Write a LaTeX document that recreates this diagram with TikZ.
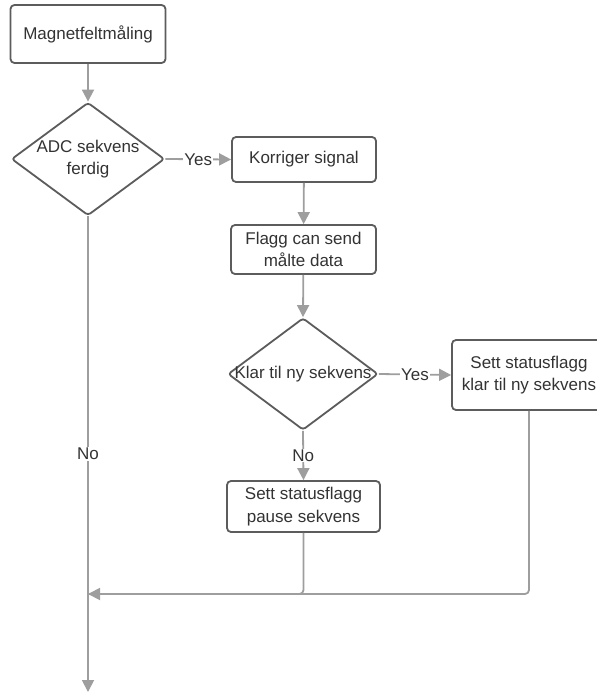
\documentclass[tikz,border=0pt]{standalone}
\usepackage{fontspec}
\setmainfont{Liberation Sans}
\usetikzlibrary{shapes.geometric,arrows.meta}
\definecolor{linegray}{HTML}{9E9E9E}
\definecolor{bordergray}{HTML}{5C5C5C}
\definecolor{textgray}{HTML}{333333}
\tikzset{
  txtfont/.style={font=\fontsize{17bp}{22.5bp}\selectfont},
  box/.style={draw=bordergray, line width=1.8bp, rounded corners=4bp, fill=white, text=textgray,
    txtfont, align=center, inner sep=0pt},
  dia/.style={draw=bordergray, line width=1.8bp, diamond, rounded corners=3bp, fill=white, inner sep=0pt},
  diatext/.style={text=textgray, txtfont, align=center, inner sep=0pt},
  conn/.style={draw=linegray, line width=1.8bp},
  arr/.style={conn, -{Triangle[length=12bp,width=12bp]}},
  lbl/.style={fill=white, text=textgray, txtfont, inner sep=1bp},
}
\begin{document}
\begin{tikzpicture}[x=1bp,y=-1bp]
\useasboundingbox (0,0) rectangle (597,692);
\node[box, minimum width=155bp, minimum height=58bp] (m) at (88,34) {Magnetfeltmåling};
\node[dia, minimum width=153bp, minimum height=113bp] (adc) at (88,159) {};
\node[diatext] (adct) at (adc) {ADC sekvens\\ferdig};
\node[box, minimum width=144bp, minimum height=45bp] (kor) at (304,159.5) {Korriger signal};
\node[box, minimum width=145bp, minimum height=49bp] (flagg) at (303.5,249.5) {Flagg can send\\målte data};
\node[dia, minimum width=150bp, minimum height=112bp] (klar) at (303,374) {};
\node[diatext] (klart) at (klar) {Klar til ny sekvens};
\node[box, minimum width=154bp, minimum height=70bp] (sett) at (529,375) {Sett statusflagg\\klar til ny sekvens};
\node[box, minimum width=153bp, minimum height=51bp] (pause) at (303.5,506.5) {Sett statusflagg\\pause sekvens};
\coordinate (j) at (88,594);
\coordinate (end) at (88,692);

\draw[arr] (m) -- (adc);
\draw[arr] (adc.east) -- node[lbl] {Yes} (kor.west);
\draw[arr] (kor) -- (flagg);
\draw[arr] (flagg) -- (klar.north);
\draw[arr] (klar.east) -- node[lbl] {Yes} (sett.west);
\draw[arr] (klar.south) -- node[lbl] {No} (pause.north);
\draw[arr, rounded corners=4bp] (pause.south) |- (j);
\draw[conn, rounded corners=4bp] (sett.south) |- (j);
\draw[arr] (adc.south) -- node[lbl] {No} (end);
\end{tikzpicture}
\end{document}
